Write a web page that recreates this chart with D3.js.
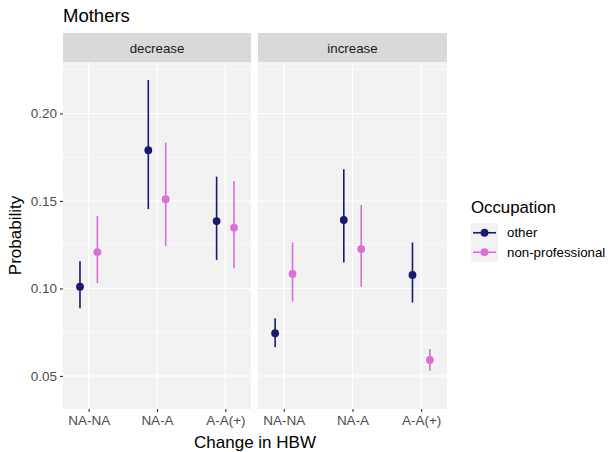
<!DOCTYPE html>
<html>
<head>
<meta charset="utf-8">
<script src="https://cdn.jsdelivr.net/npm/d3@7"></script>
<style>
  html, body { margin: 0; padding: 0; background: #fff; }
  svg { display: block; font-family: "Liberation Sans", Arial, sans-serif; }
</style>
</head>
<body>
<svg id="chart" width="615" height="452"></svg>
<script>
// Facets, categories and groups
const facets = ["decrease", "increase"];
const categories = ["NA-NA", "NA-A", "A-A(+)"];
const groups = ["other", "non-professional"];
const groupColors = ["#191970", "#DA70D6"];

// Estimated probabilities with lower / upper interval bounds, per facet, by category
const otherDecrease     = [0.101, 0.179, 0.1385];
const otherDecreaseLo   = [0.0887, 0.1453, 0.1163];
const otherDecreaseHi   = [0.1155, 0.2191, 0.1639];
const nonprofDecrease   = [0.1207, 0.151, 0.1347];
const nonprofDecreaseLo = [0.103, 0.1243, 0.1115];
const nonprofDecreaseHi = [0.1414, 0.1833, 0.1614];

const otherIncrease     = [0.0744, 0.1391, 0.1077];
const otherIncreaseLo   = [0.0664, 0.1148, 0.0919];
const otherIncreaseHi   = [0.083, 0.1681, 0.1262];
const nonprofIncrease   = [0.1083, 0.1226, 0.0591];
const nonprofIncreaseLo = [0.0925, 0.101, 0.053];
const nonprofIncreaseHi = [0.1262, 0.1477, 0.0654];

const yMajorTicks = [0.05, 0.10, 0.15, 0.20];
const yMinorTicks = [0.075, 0.125, 0.175, 0.225];

const title = "Mothers";
const xTitle = "Change in HBW";
const yTitle = "Probability";
const legendTitle = "Occupation";

// Assemble rows for drawing
const series = {
  decrease: [
    { group: "other", v: otherDecrease, lo: otherDecreaseLo, hi: otherDecreaseHi },
    { group: "non-professional", v: nonprofDecrease, lo: nonprofDecreaseLo, hi: nonprofDecreaseHi }
  ],
  increase: [
    { group: "other", v: otherIncrease, lo: otherIncreaseLo, hi: otherIncreaseHi },
    { group: "non-professional", v: nonprofIncrease, lo: nonprofIncreaseLo, hi: nonprofIncreaseHi }
  ]
};
const rows = [];
facets.forEach(f => series[f].forEach(s => categories.forEach((c, i) => {
  rows.push({ facet: f, group: s.group, cat: c, v: s.v[i], lo: s.lo[i], hi: s.hi[i] });
})));

// Layout
const panelTop = 62, panelBottom = 409;
const stripTop = 33, stripH = panelTop - stripTop;
const panelX = { decrease: [63, 251], increase: [258, 447] };
const panelFill = "#F2F2F2", stripFill = "#D9D9D9";

const svg = d3.select("#chart");
const color = d3.scaleOrdinal().domain(groups).range(groupColors);
const y = d3.scaleLinear().domain([0.0311, 0.2294]).range([panelBottom, panelTop]);
const dodge = d3.scalePoint().domain(groups).range([-8.7, 8.7]);

// Title
svg.append("text").attr("x", 63).attr("y", 22)
  .attr("font-size", 18.5).attr("fill", "#000").text(title);

facets.forEach(f => {
  const [x0, x1] = panelX[f];
  const x = d3.scalePoint().domain(categories).range([x0, x1]).padding(0.376);
  const g = svg.append("g");

  // strip
  g.append("rect").attr("x", x0).attr("y", stripTop).attr("width", x1 - x0).attr("height", stripH)
    .attr("fill", stripFill);
  g.append("text").attr("x", (x0 + x1) / 2).attr("y", stripTop + stripH / 2 + 5)
    .attr("text-anchor", "middle").attr("font-size", 13.3).attr("fill", "#1A1A1A").text(f);

  // panel background
  g.append("rect").attr("x", x0).attr("y", panelTop).attr("width", x1 - x0)
    .attr("height", panelBottom - panelTop).attr("fill", panelFill);

  // grid
  g.selectAll(".minor").data(yMinorTicks).join("line")
    .attr("x1", x0).attr("x2", x1).attr("y1", d => y(d)).attr("y2", d => y(d))
    .attr("stroke", "#fff").attr("stroke-width", 0.6);
  g.selectAll(".major").data(yMajorTicks).join("line")
    .attr("x1", x0).attr("x2", x1).attr("y1", d => y(d)).attr("y2", d => y(d))
    .attr("stroke", "#fff").attr("stroke-width", 1.1);
  g.selectAll(".vgrid").data(categories).join("line")
    .attr("x1", d => x(d)).attr("x2", d => x(d)).attr("y1", panelTop).attr("y2", panelBottom)
    .attr("stroke", "#fff").attr("stroke-width", 1.1);

  // x axis
  const xAxis = d3.axisBottom(x).tickSize(3).tickPadding(3);
  const ax = g.append("g").attr("transform", `translate(0,${panelBottom})`).call(xAxis);
  ax.select(".domain").remove();
  ax.selectAll(".tick line").attr("stroke", "#333").attr("stroke-width", 1.1);
  ax.selectAll(".tick text").attr("fill", "#4D4D4D").attr("font-size", 13.5)
    .attr("font-family", "Liberation Sans, Arial, sans-serif");

  // error bars and points
  const data = rows.filter(r => r.facet === f);
  g.selectAll(".err").data(data).join("line")
    .attr("x1", d => x(d.cat) + dodge(d.group)).attr("x2", d => x(d.cat) + dodge(d.group))
    .attr("y1", d => y(d.lo)).attr("y2", d => y(d.hi))
    .attr("stroke", d => color(d.group)).attr("stroke-width", 1.6);
  g.selectAll(".pt").data(data).join("circle")
    .attr("cx", d => x(d.cat) + dodge(d.group)).attr("cy", d => y(d.v))
    .attr("r", 3.9).attr("fill", d => color(d.group));
});

// y axis (left panel only)
const yAxis = d3.axisLeft(y).tickValues(yMajorTicks).tickFormat(d3.format(".2f")).tickSize(3).tickPadding(3);
const ay = svg.append("g").attr("transform", `translate(${panelX.decrease[0]},0)`).call(yAxis);
ay.select(".domain").remove();
ay.selectAll(".tick line").attr("stroke", "#333").attr("stroke-width", 1.1);
ay.selectAll(".tick text").attr("fill", "#4D4D4D").attr("font-size", 13.5)
  .attr("font-family", "Liberation Sans, Arial, sans-serif");

// axis titles
svg.append("text").attr("x", (panelX.decrease[0] + panelX.increase[1]) / 2).attr("y", 448)
  .attr("text-anchor", "middle").attr("font-size", 17).attr("fill", "#000").text(xTitle);
svg.append("text")
  .attr("transform", `translate(21,${(panelTop + panelBottom) / 2}) rotate(-90)`)
  .attr("text-anchor", "middle").attr("font-size", 17).attr("fill", "#000").text(yTitle);

// legend
const lg = svg.append("g");
lg.append("text").attr("x", 471).attr("y", 213).attr("font-size", 16.8).attr("fill", "#000").text(legendTitle);
const keyX = 471, keyW = 27, keyTop = 223, keyH = 19.5;
groups.forEach((gName, i) => {
  const ky = keyTop + i * keyH;
  lg.append("rect").attr("x", keyX).attr("y", ky).attr("width", keyW).attr("height", keyH)
    .attr("fill", panelFill);
  lg.append("line").attr("x1", keyX + 2).attr("x2", keyX + keyW - 2)
    .attr("y1", ky + keyH / 2).attr("y2", ky + keyH / 2)
    .attr("stroke", color(gName)).attr("stroke-width", 1.6);
  lg.append("circle").attr("cx", keyX + keyW / 2).attr("cy", ky + keyH / 2).attr("r", 3.9)
    .attr("fill", color(gName));
  lg.append("text").attr("x", 507).attr("y", ky + keyH / 2 + 4.6)
    .attr("font-size", 13.3).attr("fill", "#000").text(gName);
});
</script>
</body>
</html>
